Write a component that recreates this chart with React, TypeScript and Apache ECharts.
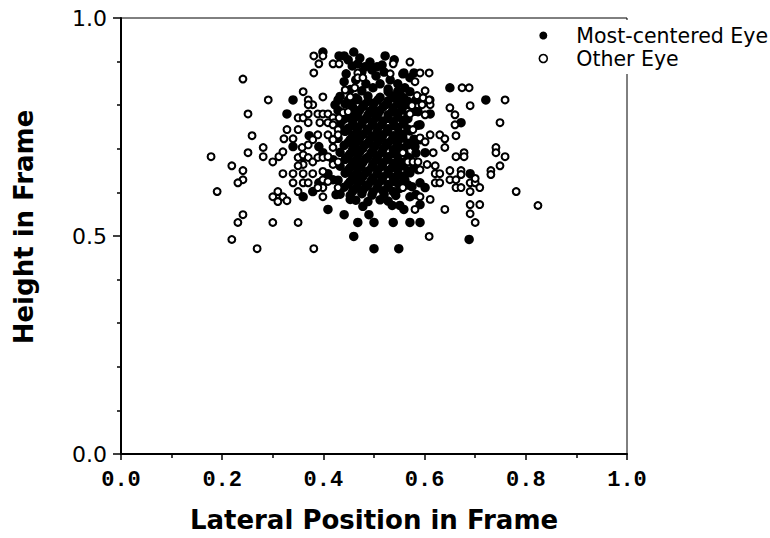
import React, { useEffect, useRef } from 'react';
import * as echarts from 'echarts';

const seriesNames = ['Most-centered Eye', 'Other Eye'];
const xTitle = 'Lateral Position in Frame';
const yTitle = 'Height in Frame';

// Most-centered eye (filled) – scattered points
const mostCenteredOuter: number[][] = [
  [0.399, 0.922], [0.431, 0.913], [0.441, 0.913], [0.460, 0.922], [0.522, 0.913], [0.441, 0.854],
  [0.340, 0.812], [0.328, 0.780], [0.372, 0.730], [0.340, 0.705], [0.360, 0.682], [0.391, 0.705],
  [0.399, 0.691], [0.409, 0.643], [0.391, 0.622], [0.379, 0.602], [0.360, 0.590], [0.409, 0.561],
  [0.441, 0.549], [0.460, 0.499], [0.468, 0.531], [0.500, 0.531], [0.500, 0.471], [0.538, 0.531],
  [0.549, 0.471], [0.559, 0.874], [0.579, 0.874], [0.650, 0.840], [0.721, 0.812], [0.672, 0.760],
  [0.581, 0.705], [0.601, 0.691], [0.690, 0.643], [0.601, 0.611], [0.591, 0.572], [0.559, 0.561],
  [0.571, 0.531], [0.591, 0.531], [0.688, 0.492], [0.453, 0.584], [0.478, 0.568], [0.490, 0.549],
  [0.536, 0.570], [0.551, 0.570], [0.571, 0.590], [0.429, 0.812], [0.439, 0.767], [0.468, 0.895],
  [0.482, 0.888], [0.496, 0.881], [0.506, 0.888], [0.516, 0.892], [0.498, 0.840], [0.557, 0.872],
  [0.571, 0.863], [0.561, 0.840], [0.551, 0.828], [0.541, 0.817], [0.611, 0.780],
];

// Most-centered eye (filled) – upper band and core edges
const mostCenteredBand: number[][] = [
  [0.449, 0.904], [0.457, 0.890], [0.472, 0.908], [0.476, 0.876], [0.492, 0.899], [0.504, 0.867],
  [0.520, 0.876], [0.532, 0.858], [0.547, 0.849], [0.540, 0.904], [0.445, 0.872], [0.464, 0.858],
  [0.484, 0.849], [0.512, 0.849], [0.528, 0.831], [0.571, 0.831], [0.583, 0.812], [0.587, 0.785],
  [0.591, 0.755], [0.591, 0.721], [0.587, 0.652], [0.591, 0.622], [0.583, 0.595], [0.423, 0.801],
  [0.419, 0.721], [0.419, 0.675], [0.419, 0.629], [0.425, 0.595],
];

// Most-centered eye (filled) – dense core
const mostCenteredCore: number[][] = [
  [0.453, 0.836], [0.476, 0.833], [0.528, 0.837], [0.547, 0.832],
  [0.433, 0.820], [0.464, 0.817], [0.488, 0.821], [0.512, 0.818], [0.536, 0.821], [0.559, 0.817],
  [0.443, 0.803], [0.457, 0.806], [0.480, 0.801], [0.500, 0.805], [0.524, 0.802], [0.547, 0.804], [0.571, 0.800],
  [0.429, 0.788], [0.453, 0.785], [0.472, 0.789], [0.492, 0.786], [0.512, 0.788], [0.536, 0.785], [0.555, 0.789], [0.581, 0.786],
  [0.445, 0.771], [0.464, 0.773], [0.484, 0.769], [0.504, 0.772], [0.528, 0.770], [0.547, 0.773], [0.567, 0.769],
  [0.433, 0.756], [0.457, 0.753], [0.476, 0.757], [0.496, 0.754], [0.516, 0.756], [0.540, 0.753], [0.559, 0.757], [0.587, 0.754],
  [0.443, 0.740], [0.466, 0.737], [0.486, 0.741], [0.506, 0.738], [0.526, 0.740], [0.549, 0.737], [0.571, 0.741],
  [0.429, 0.724], [0.453, 0.721], [0.472, 0.725], [0.492, 0.722], [0.514, 0.724], [0.536, 0.721], [0.557, 0.725], [0.579, 0.722],
  [0.441, 0.708], [0.462, 0.705], [0.482, 0.709], [0.502, 0.706], [0.524, 0.708], [0.545, 0.705], [0.567, 0.709],
  [0.433, 0.692], [0.453, 0.689], [0.472, 0.693], [0.494, 0.690], [0.516, 0.692], [0.538, 0.689], [0.559, 0.693], [0.583, 0.690],
  [0.443, 0.676], [0.464, 0.673], [0.484, 0.677], [0.504, 0.674], [0.526, 0.676], [0.547, 0.673], [0.571, 0.677],
  [0.433, 0.660], [0.453, 0.657], [0.474, 0.661], [0.496, 0.658], [0.516, 0.660], [0.536, 0.657], [0.559, 0.661], [0.579, 0.658],
  [0.443, 0.644], [0.464, 0.641], [0.484, 0.645], [0.506, 0.642], [0.528, 0.644], [0.547, 0.641], [0.571, 0.645],
  [0.429, 0.628], [0.453, 0.625], [0.474, 0.629], [0.494, 0.626], [0.516, 0.628], [0.540, 0.625], [0.561, 0.629],
  [0.441, 0.612], [0.464, 0.609], [0.484, 0.613], [0.506, 0.610], [0.528, 0.612], [0.551, 0.609], [0.575, 0.613],
  [0.433, 0.596], [0.453, 0.593], [0.476, 0.597], [0.496, 0.594], [0.520, 0.596], [0.543, 0.593],
  [0.464, 0.582], [0.488, 0.579], [0.512, 0.583], [0.528, 0.580],
  // second, offset layer of the core
  [0.449, 0.811], [0.468, 0.813], [0.488, 0.809], [0.508, 0.812], [0.528, 0.810], [0.547, 0.812], [0.567, 0.809],
  [0.458, 0.795], [0.478, 0.797], [0.498, 0.793], [0.518, 0.796], [0.538, 0.794], [0.557, 0.797],
  [0.449, 0.779], [0.468, 0.781], [0.488, 0.777], [0.508, 0.780], [0.528, 0.778], [0.547, 0.781], [0.567, 0.777],
  [0.458, 0.763], [0.478, 0.765], [0.498, 0.761], [0.518, 0.764], [0.538, 0.762], [0.557, 0.765],
  [0.449, 0.747], [0.468, 0.749], [0.488, 0.745], [0.508, 0.748], [0.528, 0.746], [0.547, 0.749], [0.567, 0.745],
  [0.458, 0.731], [0.478, 0.733], [0.498, 0.729], [0.518, 0.732], [0.538, 0.730], [0.557, 0.733],
  [0.449, 0.715], [0.468, 0.717], [0.488, 0.713], [0.508, 0.716], [0.528, 0.714], [0.547, 0.717], [0.567, 0.713],
  [0.458, 0.699], [0.478, 0.701], [0.498, 0.697], [0.518, 0.700], [0.538, 0.698], [0.557, 0.701],
  [0.449, 0.683], [0.468, 0.685], [0.488, 0.681], [0.508, 0.684], [0.528, 0.682], [0.547, 0.685], [0.567, 0.681],
  [0.458, 0.667], [0.478, 0.669], [0.498, 0.665], [0.518, 0.668], [0.538, 0.666], [0.557, 0.669],
  [0.449, 0.651], [0.468, 0.653], [0.488, 0.649], [0.508, 0.652], [0.528, 0.650], [0.547, 0.653], [0.567, 0.649],
  [0.458, 0.635], [0.478, 0.637], [0.498, 0.633], [0.518, 0.636], [0.538, 0.634], [0.557, 0.637],
  [0.449, 0.619], [0.468, 0.621], [0.488, 0.617], [0.508, 0.620], [0.528, 0.618], [0.547, 0.621], [0.567, 0.617],
  [0.458, 0.603], [0.478, 0.605], [0.498, 0.601], [0.518, 0.604], [0.538, 0.602],
];

// Other eye (open circles)
const otherEye: number[][] = [
  [0.241, 0.860], [0.291, 0.812], [0.251, 0.780], [0.259, 0.730], [0.178, 0.682], [0.251, 0.691],
  [0.281, 0.703], [0.281, 0.682], [0.219, 0.661], [0.241, 0.650], [0.241, 0.629], [0.231, 0.622],
  [0.190, 0.602], [0.241, 0.549], [0.231, 0.531], [0.219, 0.492], [0.269, 0.471], [0.300, 0.531],
  [0.350, 0.531], [0.381, 0.471],
  [0.300, 0.590], [0.310, 0.602], [0.310, 0.579], [0.320, 0.590], [0.328, 0.581], [0.300, 0.670],
  [0.312, 0.682], [0.320, 0.643], [0.340, 0.643], [0.340, 0.622], [0.350, 0.602], [0.360, 0.643],
  [0.360, 0.622], [0.379, 0.643], [0.399, 0.590], [0.399, 0.611],
  [0.322, 0.723], [0.328, 0.744], [0.340, 0.723], [0.350, 0.744], [0.350, 0.771], [0.360, 0.771],
  [0.370, 0.780], [0.370, 0.760], [0.360, 0.831], [0.370, 0.812], [0.379, 0.801], [0.370, 0.801],
  [0.399, 0.819], [0.381, 0.913], [0.399, 0.913], [0.391, 0.895], [0.419, 0.895], [0.431, 0.895],
  [0.381, 0.874],
  [0.389, 0.780], [0.399, 0.780], [0.409, 0.780], [0.419, 0.771], [0.431, 0.771], [0.393, 0.760],
  [0.409, 0.760], [0.421, 0.760],
  [0.320, 0.693], [0.360, 0.664], [0.370, 0.622], [0.389, 0.611],
  [0.350, 0.661], [0.350, 0.680], [0.360, 0.686], [0.370, 0.680], [0.379, 0.670], [0.389, 0.680],
  [0.399, 0.680], [0.409, 0.682], [0.419, 0.703], [0.419, 0.664], [0.429, 0.670], [0.399, 0.648],
  [0.399, 0.629], [0.409, 0.625], [0.429, 0.611],
  [0.419, 0.755], [0.429, 0.744],
  [0.358, 0.703], [0.370, 0.709], [0.379, 0.721], [0.389, 0.732], [0.409, 0.732], [0.419, 0.721],
  [0.429, 0.732],
  [0.468, 0.874], [0.468, 0.863], [0.478, 0.863], [0.532, 0.872], [0.443, 0.835], [0.462, 0.840],
  [0.453, 0.819], [0.585, 0.822], [0.597, 0.817], [0.611, 0.812], [0.611, 0.801], [0.595, 0.801],
  [0.571, 0.780], [0.601, 0.778], [0.575, 0.799], [0.650, 0.794], [0.660, 0.778], [0.660, 0.755],
  [0.630, 0.732], [0.591, 0.725], [0.601, 0.716], [0.611, 0.732], [0.577, 0.744], [0.439, 0.783],
  [0.449, 0.785],
  [0.538, 0.895], [0.571, 0.899], [0.591, 0.874], [0.609, 0.874], [0.581, 0.854], [0.601, 0.833],
  [0.609, 0.812], [0.674, 0.840], [0.688, 0.840], [0.690, 0.799], [0.759, 0.812], [0.662, 0.730],
  [0.749, 0.760], [0.640, 0.723], [0.640, 0.703], [0.662, 0.682], [0.678, 0.691], [0.678, 0.682],
  [0.741, 0.703], [0.741, 0.691], [0.759, 0.682], [0.749, 0.661], [0.731, 0.650], [0.731, 0.641],
  [0.621, 0.661], [0.621, 0.643], [0.630, 0.643], [0.621, 0.622], [0.630, 0.622], [0.650, 0.650],
  [0.672, 0.650], [0.650, 0.629], [0.662, 0.629], [0.672, 0.641], [0.662, 0.611], [0.672, 0.611],
  [0.690, 0.622], [0.700, 0.622], [0.709, 0.611], [0.690, 0.602], [0.781, 0.602], [0.824, 0.570],
  [0.690, 0.572], [0.709, 0.572], [0.690, 0.551], [0.700, 0.531], [0.640, 0.561], [0.609, 0.499],
  [0.591, 0.590], [0.611, 0.584], [0.581, 0.561], [0.700, 0.632],
  [0.557, 0.691], [0.567, 0.670], [0.577, 0.670], [0.587, 0.670], [0.591, 0.652], [0.605, 0.664],
  [0.617, 0.691], [0.557, 0.611],
];

const xMin = 0, xMax = 1, xStep = 0.2;
const yMin = 0, yMax = 1, yStep = 0.5;

export default function App() {
  const ref = useRef<HTMLDivElement>(null);
  useEffect(() => {
    if (!ref.current) return;
    const chart = echarts.init(ref.current, null, { renderer: 'svg' });
    chart.setOption({
      animation: false,
      backgroundColor: '#fff',
      grid: {
        left: 121, right: 143, top: 18, bottom: 83,
        show: true, borderColor: '#000', borderWidth: 1, backgroundColor: 'transparent',
      },
      legend: {
        data: [
          { name: seriesNames[0] },
          { name: seriesNames[1], itemStyle: { borderWidth: 1.6 } },
        ],
        orient: 'vertical',
        right: 1, top: 20,
        padding: [5, 1, 5, 0],
        itemWidth: 56, itemHeight: 8, itemGap: 2,
        backgroundColor: '#fff',
        textStyle: { fontFamily: 'DejaVu Sans', fontSize: 20.5, color: '#000', lineHeight: 20 },
      },
      xAxis: {
        type: 'value', min: xMin, max: xMax, interval: xStep,
        name: xTitle, nameLocation: 'middle', nameGap: 66,
        nameTextStyle: { fontFamily: 'DejaVu Sans', fontWeight: 'bold', fontSize: 26, color: '#000', verticalAlign: 'middle' },
        axisLine: { show: true, lineStyle: { color: '#000', width: 2 } },
        axisTick: { show: true, length: 6, lineStyle: { color: '#000', width: 1.5 } },
        minorTick: { show: true, splitNumber: 2, length: 4, lineStyle: { color: '#000', width: 1.5 } },
        splitLine: { show: false },
        axisLabel: {
          formatter: (v: number) => v.toFixed(1), fontFamily: 'Liberation Mono', fontWeight: 'bold',
          fontSize: 22, color: '#000', margin: 15,
        },
      },
      yAxis: {
        type: 'value', min: yMin, max: yMax, interval: yStep,
        axisLine: { show: true, lineStyle: { color: '#000', width: 2 } },
        axisTick: { show: true, length: 8, lineStyle: { color: '#000', width: 1.5 } },
        minorTick: { show: true, splitNumber: 5, length: 4, lineStyle: { color: '#000', width: 1.5 } },
        splitLine: { show: false },
        axisLabel: { formatter: (v: number) => v.toFixed(1), fontFamily: 'DejaVu Sans', fontSize: 22, color: '#000', margin: 14 },
      },
      graphic: [
        {
          type: 'text', x: 24, y: 227, rotation: Math.PI / 2,
          style: {
            text: yTitle, fontFamily: 'DejaVu Sans', fontWeight: 'bold', fontSize: 26,
            fill: '#000', align: 'center', verticalAlign: 'middle',
          },
        },
      ],
      series: [
        {
          name: seriesNames[0], type: 'scatter', symbol: 'circle', symbolSize: 9.5,
          data: [...mostCenteredCore, ...mostCenteredBand, ...mostCenteredOuter],
          itemStyle: { color: '#000', opacity: 1 },
        },
        {
          name: seriesNames[1], type: 'scatter', symbol: 'circle', symbolSize: 6.8,
          data: otherEye,
          itemStyle: { color: '#fff', borderColor: '#000', borderWidth: 2.1, opacity: 1 },
        },
      ],
    });
    return () => chart.dispose();
  }, []);
  return <div ref={ref} style={{ position: 'fixed', left: 0, top: 0, width: 770, height: 538 }} />;
}
